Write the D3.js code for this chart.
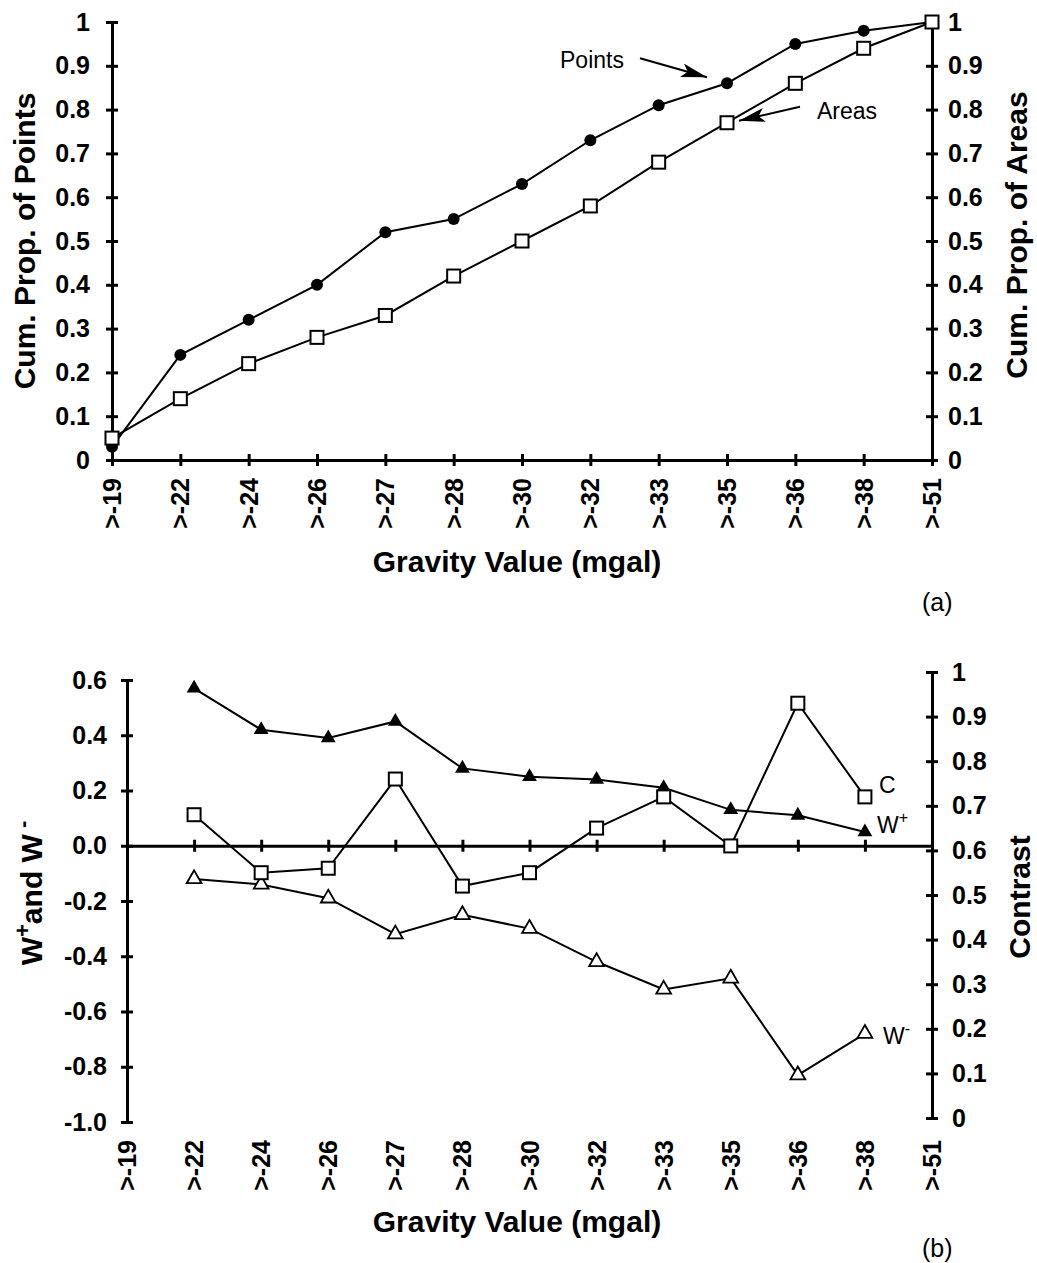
<!DOCTYPE html>
<html>
<head>
<meta charset="utf-8">
<script src="https://cdn.jsdelivr.net/npm/d3@7"></script>
<style>
  body { margin: 0; background: #fff; }
  svg text { font-family: "Liberation Sans", Arial, Helvetica, sans-serif; fill: #000; }
</style>
</head>
<body>
<svg id="chart"></svg>
<script>
// gravity classes on the x axis of both panels
const categories = [">-19", ">-22", ">-24", ">-26", ">-27", ">-28", ">-30", ">-32", ">-33", ">-35", ">-36", ">-38", ">-51"];

// panel (a): cumulative proportions
const cumPoints = [0.03, 0.24, 0.32, 0.40, 0.52, 0.55, 0.63, 0.73, 0.81, 0.86, 0.95, 0.98, 1.0];
const cumAreas  = [0.05, 0.14, 0.22, 0.28, 0.33, 0.42, 0.50, 0.58, 0.68, 0.77, 0.86, 0.94, 1.0];

// panel (b): weights and contrast, for >-22 .. >-38
const weightCats = categories.slice(1, 12);
const wPlus    = [0.57, 0.42, 0.39, 0.45, 0.28, 0.25, 0.24, 0.21, 0.13, 0.11, 0.05];
const wMinus   = [-0.12, -0.14, -0.19, -0.32, -0.25, -0.30, -0.42, -0.52, -0.48, -0.83, -0.68];
const contrast = [0.68, 0.55, 0.56, 0.76, 0.52, 0.55, 0.65, 0.72, 0.61, 0.93, 0.72];

// tick labels
const propTicks = [0, 0.1, 0.2, 0.3, 0.4, 0.5, 0.6, 0.7, 0.8, 0.9, 1];
const propLabels = ["0", "0.1", "0.2", "0.3", "0.4", "0.5", "0.6", "0.7", "0.8", "0.9", "1"];
const wTicks = [0.6, 0.4, 0.2, 0, -0.2, -0.4, -0.6, -0.8, -1.0];
const wLabels = ["0.6", "0.4", "0.2", "0.0", "-0.2", "-0.4", "-0.6", "-0.8", "-1.0"];

const svg = d3.select("#chart").attr("width", 1037).attr("height", 1263);

const tickFont = "25px";
const titleFont = "30px";

function styleAxis(g) {
  g.attr("font-size", null).attr("font-family", null);
  g.select(".domain").attr("stroke", "#000").attr("stroke-width", 3);
  g.selectAll(".tick line").attr("stroke", "#000").attr("stroke-width", 3);
  g.selectAll(".tick text").style("font-size", tickFont).style("font-weight", 700);
}

function lookup(ticks, labels) {
  return function(d) { return labels[ticks.indexOf(d)]; };
}

// ---------------- panel (a) ----------------
const xA = d3.scalePoint().domain(categories).range([112, 932]);
const yA = d3.scaleLinear().domain([0, 1]).range([460, 22]);

const leftA = svg.append("g")
  .attr("transform", "translate(" + xA.range()[0] + ",0)")
  .call(d3.axisLeft(yA).tickValues(propTicks).tickSize(6).tickSizeOuter(0).tickPadding(16).tickFormat(lookup(propTicks, propLabels)));
styleAxis(leftA);
leftA.selectAll(".tick line").attr("x1", 6);

const rightA = svg.append("g")
  .attr("transform", "translate(" + xA.range()[1] + ",0)")
  .call(d3.axisRight(yA).tickValues(propTicks).tickSize(6).tickSizeOuter(0).tickPadding(10).tickFormat(lookup(propTicks, propLabels)));
styleAxis(rightA);
rightA.selectAll(".tick line").attr("x1", -6);

const bottomA = svg.append("g")
  .attr("transform", "translate(0," + yA(0) + ")")
  .call(d3.axisBottom(xA).tickSize(6).tickSizeOuter(0).tickFormat(""));
styleAxis(bottomA);
bottomA.selectAll(".tick line").attr("y1", -6);

svg.append("g").selectAll("text")
  .data(categories)
  .enter().append("text")
    .attr("transform", function(d) { return "translate(" + (xA(d) + 9) + ",478)rotate(-90)"; })
    .attr("text-anchor", "end")
    .style("font-size", tickFont)
    .style("font-weight", 700)
    .text(function(d) { return d; });

const lineA = d3.line()
  .x(function(d) { return xA(d.cat); })
  .y(function(d) { return yA(d.v); });

const pointsData = categories.map(function(c, i) { return { cat: c, v: cumPoints[i] }; });
const areasData = categories.map(function(c, i) { return { cat: c, v: cumAreas[i] }; });

svg.append("path").datum(pointsData)
  .attr("fill", "none").attr("stroke", "#000").attr("stroke-width", 2)
  .attr("d", lineA);
svg.append("path").datum(areasData)
  .attr("fill", "none").attr("stroke", "#000").attr("stroke-width", 2)
  .attr("d", lineA);

svg.append("g").selectAll("circle")
  .data(pointsData)
  .enter().append("circle")
    .attr("cx", function(d) { return xA(d.cat); })
    .attr("cy", function(d) { return yA(d.v); })
    .attr("r", 6)
    .attr("fill", "#000");

svg.append("g").selectAll("rect")
  .data(areasData)
  .enter().append("rect")
    .attr("x", function(d) { return xA(d.cat) - 6.5; })
    .attr("y", function(d) { return yA(d.v) - 6.5; })
    .attr("width", 13)
    .attr("height", 13)
    .attr("fill", "#fff")
    .attr("stroke", "#000")
    .attr("stroke-width", 2);

// arrow head
svg.append("defs").append("marker")
  .attr("id", "arrow")
  .attr("markerUnits", "userSpaceOnUse")
  .attr("viewBox", "0 0 26 14")
  .attr("refX", 26).attr("refY", 7)
  .attr("markerWidth", 26).attr("markerHeight", 14)
  .attr("orient", "auto")
  .append("path")
    .attr("d", "M0,0L26,7L0,14L6,7Z")
    .attr("fill", "#000");

// annotations pointing at >-35
const px = xA(">-35"), pyP = yA(cumPoints[9]), pyA = yA(cumAreas[9]);
svg.append("text")
  .attr("x", px - 167).attr("y", pyP - 15)
  .style("font-size", "23px")
  .text("Points");
svg.append("line")
  .attr("x1", px - 87).attr("y1", pyP - 25)
  .attr("x2", px - 20).attr("y2", pyP - 6)
  .attr("stroke", "#000").attr("stroke-width", 2)
  .attr("marker-end", "url(#arrow)");
svg.append("text")
  .attr("x", px + 90).attr("y", pyA - 4)
  .style("font-size", "23px")
  .text("Areas");
svg.append("line")
  .attr("x1", px + 73).attr("y1", pyA - 16)
  .attr("x2", px + 12).attr("y2", pyA - 2)
  .attr("stroke", "#000").attr("stroke-width", 2)
  .attr("marker-end", "url(#arrow)");

// titles (a)
svg.append("text")
  .attr("transform", "translate(35," + ((yA(0) + yA(1)) / 2) + ")rotate(-90)")
  .attr("text-anchor", "middle")
  .style("font-size", titleFont).style("font-weight", 700)
  .text("Cum. Prop. of Points");
svg.append("text")
  .attr("transform", "translate(1027," + ((yA(0) + yA(1)) / 2 - 6) + ")rotate(-90)")
  .attr("text-anchor", "middle")
  .style("font-size", titleFont).style("font-weight", 700)
  .text("Cum. Prop. of Areas");
svg.append("text")
  .attr("x", 517).attr("y", 572)
  .attr("text-anchor", "middle")
  .style("font-size", titleFont).style("font-weight", 700)
  .text("Gravity Value (mgal)");
svg.append("text")
  .attr("x", 922).attr("y", 611)
  .style("font-size", "25px")
  .text("(a)");

// ---------------- panel (b) ----------------
const xB = d3.scalePoint().domain(categories).range([127, 932]);
const yW = d3.scaleLinear().domain([-1, 0.6]).range([1122, 680]);
const yC = d3.scaleLinear().domain([0, 1]).range([1118, 672]);

const leftB = svg.append("g")
  .attr("transform", "translate(" + xB.range()[0] + ",0)")
  .call(d3.axisLeft(yW).tickValues(wTicks).tickSize(6).tickSizeOuter(0).tickPadding(14).tickFormat(lookup(wTicks, wLabels)));
styleAxis(leftB);
leftB.selectAll(".tick line").attr("x1", 6);

const rightB = svg.append("g")
  .attr("transform", "translate(" + xB.range()[1] + ",0)")
  .call(d3.axisRight(yC).tickValues(propTicks).tickSize(6).tickSizeOuter(0).tickPadding(14).tickFormat(lookup(propTicks, propLabels)));
styleAxis(rightB);
rightB.selectAll(".tick line").attr("x1", -6);

const zeroB = svg.append("g")
  .attr("transform", "translate(0," + yW(0) + ")")
  .call(d3.axisBottom(xB).tickSize(6).tickSizeOuter(0).tickFormat(""));
styleAxis(zeroB);
zeroB.selectAll(".tick line").attr("y1", -6);

svg.append("g").selectAll("text")
  .data(categories)
  .enter().append("text")
    .attr("transform", function(d) { return "translate(" + (xB(d) + 9) + ",1140)rotate(-90)"; })
    .attr("text-anchor", "end")
    .style("font-size", tickFont)
    .style("font-weight", 700)
    .text(function(d) { return d; });

const wPlusData = weightCats.map(function(c, i) { return { cat: c, v: wPlus[i] }; });
const wMinusData = weightCats.map(function(c, i) { return { cat: c, v: wMinus[i] }; });
const contrastData = weightCats.map(function(c, i) { return { cat: c, v: contrast[i] }; });

const lineW = d3.line().x(function(d) { return xB(d.cat); }).y(function(d) { return yW(d.v); });
const lineC = d3.line().x(function(d) { return xB(d.cat); }).y(function(d) { return yC(d.v); });

[wPlusData, wMinusData].forEach(function(s) {
  svg.append("path").datum(s)
    .attr("fill", "none").attr("stroke", "#000").attr("stroke-width", 2)
    .attr("d", lineW);
});
svg.append("path").datum(contrastData)
  .attr("fill", "none").attr("stroke", "#000").attr("stroke-width", 2)
  .attr("d", lineC);

const tri = d3.symbol().type(d3.symbolTriangle).size(95);

svg.append("g").selectAll("path")
  .data(wPlusData)
  .enter().append("path")
    .attr("transform", function(d) { return "translate(" + xB(d.cat) + "," + yW(d.v) + ")"; })
    .attr("d", tri)
    .attr("fill", "#000");

svg.append("g").selectAll("path")
  .data(wMinusData)
  .enter().append("path")
    .attr("transform", function(d) { return "translate(" + xB(d.cat) + "," + yW(d.v) + ")"; })
    .attr("d", tri)
    .attr("fill", "#fff")
    .attr("stroke", "#000")
    .attr("stroke-width", 1.8);

svg.append("g").selectAll("rect")
  .data(contrastData)
  .enter().append("rect")
    .attr("x", function(d) { return xB(d.cat) - 6.5; })
    .attr("y", function(d) { return yC(d.v) - 6.5; })
    .attr("width", 13)
    .attr("height", 13)
    .attr("fill", "#fff")
    .attr("stroke", "#000")
    .attr("stroke-width", 2);

// series labels beside >-38
const lx = xB(">-38");
svg.append("text")
  .attr("x", lx + 14).attr("y", yC(contrast[10]) - 4)
  .style("font-size", "23px")
  .text("C");
const wpl = svg.append("text")
  .attr("x", lx + 12).attr("y", yW(wPlus[10]) + 1)
  .style("font-size", "23px");
wpl.append("tspan").text("W");
wpl.append("tspan").attr("dy", -10).style("font-size", "16px").text("+");
const wml = svg.append("text")
  .attr("x", lx + 18).attr("y", yW(wMinus[10]) + 10)
  .style("font-size", "23px");
wml.append("tspan").text("W");
wml.append("tspan").attr("dy", -10).style("font-size", "16px").text("-");

// titles (b)
const wt = svg.append("text")
  .attr("transform", "translate(42,893)rotate(-90)")
  .attr("text-anchor", "middle")
  .style("font-size", titleFont).style("font-weight", 700);
wt.append("tspan").text("W");
wt.append("tspan").attr("dy", -12).style("font-size", "22px").text("+");
wt.append("tspan").attr("dy", 12).text("and W");
wt.append("tspan").attr("dy", -12).style("font-size", "22px").text(" -");

svg.append("text")
  .attr("transform", "translate(1030,897)rotate(-90)")
  .attr("text-anchor", "middle")
  .style("font-size", titleFont).style("font-weight", 700)
  .text("Contrast");
svg.append("text")
  .attr("x", 517).attr("y", 1232)
  .attr("text-anchor", "middle")
  .style("font-size", titleFont).style("font-weight", 700)
  .text("Gravity Value (mgal)");
svg.append("text")
  .attr("x", 922).attr("y", 1257)
  .style("font-size", "25px")
  .text("(b)");
</script>
</body>
</html>
